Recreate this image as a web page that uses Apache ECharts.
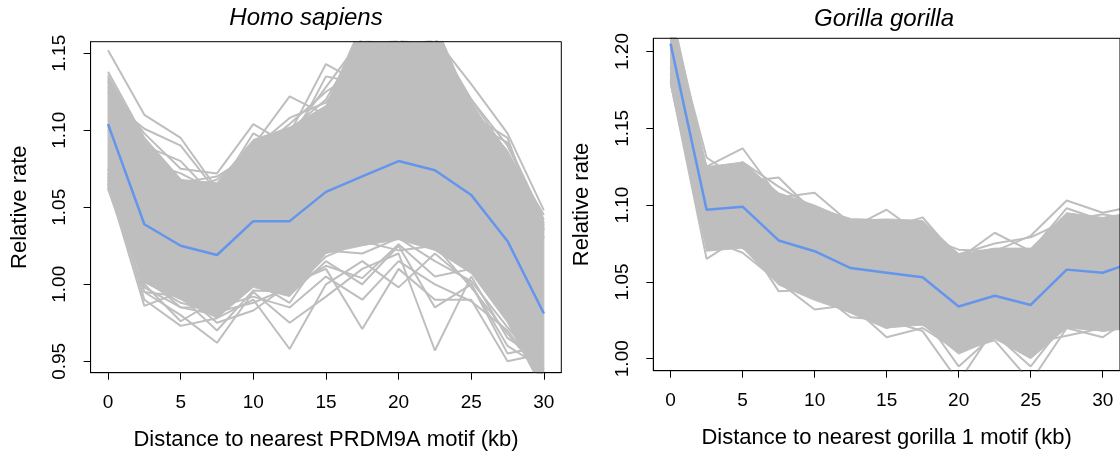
<!DOCTYPE html>
<html>
<head>
<meta charset="utf-8">
<script src="https://cdn.jsdelivr.net/npm/echarts@6/dist/echarts.min.js"></script>
<style>html,body{margin:0;padding:0;background:#fff}#c{width:1120px;height:458px}</style>
</head>
<body>
<div id="c"></div>
<script>
// ---------- data ----------
const humanX = [0, 2.5, 5, 7.5, 10, 12.5, 15, 17.5, 20, 22.5, 25, 27.5, 30];
const humanMean = [1.104, 1.039, 1.025, 1.019, 1.041, 1.041, 1.060, 1.070, 1.080, 1.074, 1.058, 1.028, 0.981];
const humanBandLow = [1.062, 1.001, 0.990, 0.978, 0.998, 0.992, 1.020, 1.025, 1.029, 1.022, 1.007, 0.975, 0.930];
const humanBandHigh = [1.136, 1.094, 1.068, 1.066, 1.094, 1.102, 1.116, 1.170, 1.170, 1.170, 1.115, 1.087, 1.040];
const humanLines = [
  [1.152, 1.110, 1.095, 1.062, 1.080, 1.098, 1.143, 1.130, 1.150, 1.160, 1.130, 1.098, 1.048],
  [1.120, 1.101, 1.090, 1.060, 1.075, 1.100, 1.120, 1.160, 1.160, 1.160, 1.120, 1.090, 1.040],
  [1.128, 1.098, 1.075, 1.072, 1.104, 1.090, 1.135, 1.130, 1.160, 1.140, 1.100, 1.080, 1.035],
  [1.110, 1.090, 1.080, 1.055, 1.090, 1.122, 1.110, 1.150, 1.140, 1.160, 1.120, 1.085, 1.045],
  [1.100, 1.085, 1.066, 1.070, 1.085, 1.104, 1.125, 1.140, 1.160, 1.150, 1.110, 1.095, 1.030],
  [1.132, 1.080, 1.072, 1.060, 1.098, 1.085, 1.110, 1.160, 1.150, 1.160, 1.118, 1.080, 1.038],
  [1.125, 1.092, 1.060, 1.068, 1.088, 1.108, 1.118, 1.150, 1.160, 1.140, 1.105, 1.092, 1.042],
  [1.138, 1.095, 1.068, 1.058, 1.080, 1.096, 1.128, 1.160, 1.160, 1.160, 1.116, 1.084, 1.036],
  [1.065, 0.986, 0.995, 0.975, 0.983, 1.000, 1.010, 0.971, 1.010, 0.990, 0.990, 0.950, 0.955],
  [1.070, 0.990, 0.973, 0.978, 0.990, 0.958, 1.000, 1.015, 0.998, 1.020, 1.000, 0.955, 0.960],
  [1.062, 0.995, 0.980, 0.962, 0.995, 0.975, 0.992, 1.010, 1.020, 0.957, 1.005, 0.965, 0.950],
  [1.075, 0.998, 0.985, 0.985, 0.992, 0.985, 1.005, 0.990, 1.015, 1.000, 0.989, 0.970, 0.940],
  [1.068, 1.000, 0.976, 0.990, 1.000, 0.993, 1.015, 1.000, 1.025, 0.985, 1.000, 0.960, 0.945],
  [1.063, 1.005, 0.985, 0.980, 1.002, 0.988, 1.022, 1.020, 1.030, 1.015, 1.002, 0.972, 0.945],
  [1.066, 0.995, 0.992, 0.970, 0.996, 0.995, 1.018, 1.028, 1.022, 1.025, 0.998, 0.968, 0.940],
  [1.072, 1.002, 0.988, 0.982, 0.988, 0.998, 1.012, 1.004, 1.026, 1.005, 1.010, 0.978, 0.935]
];

const gorillaX = [0, 2.5, 5, 7.5, 10, 12.5, 15, 17.5, 20, 22.5, 25, 27.5, 30, 32.5];
const gorillaMean = [1.205, 1.097, 1.099, 1.077, 1.070, 1.059, 1.056, 1.053, 1.034, 1.041, 1.035, 1.058, 1.056, 1.064];
const gorillaBandLow = [1.178, 1.070, 1.072, 1.048, 1.038, 1.030, 1.020, 1.022, 1.003, 1.013, 1.000, 1.020, 1.018, 1.020];
const gorillaBandHigh = [1.230, 1.125, 1.128, 1.108, 1.100, 1.090, 1.091, 1.090, 1.068, 1.072, 1.072, 1.095, 1.092, 1.096];
const gorillaLines = [
  [1.220, 1.131, 1.115, 1.118, 1.095, 1.085, 1.097, 1.080, 1.071, 1.070, 1.080, 1.103, 1.095, 1.100],
  [1.210, 1.125, 1.137, 1.105, 1.108, 1.088, 1.085, 1.092, 1.065, 1.082, 1.070, 1.098, 1.090, 1.095],
  [1.215, 1.120, 1.128, 1.112, 1.098, 1.091, 1.090, 1.088, 1.068, 1.075, 1.079, 1.090, 1.094, 1.090],
  [1.225, 1.110, 1.118, 1.100, 1.092, 1.082, 1.085, 1.083, 1.060, 1.064, 1.066, 1.088, 1.086, 1.090],
  [1.180, 1.065, 1.080, 1.044, 1.045, 1.027, 1.025, 1.018, 0.985, 1.020, 1.010, 1.015, 1.020, 1.020],
  [1.185, 1.078, 1.069, 1.050, 1.032, 1.035, 1.014, 1.020, 1.005, 1.012, 0.985, 1.020, 1.014, 1.030],
  [1.182, 1.082, 1.074, 1.055, 1.040, 1.030, 1.020, 1.028, 0.995, 1.016, 0.995, 1.025, 1.018, 1.022],
  [1.190, 1.085, 1.072, 1.058, 1.046, 1.038, 1.026, 1.022, 1.015, 1.021, 1.004, 1.026, 1.024, 1.028]
];

const xTicks = [0, 5, 10, 15, 20, 25, 30];
const humanYTicks = [0.95, 1.00, 1.05, 1.10, 1.15];
const gorillaYTicks = [1.00, 1.05, 1.10, 1.15, 1.20];
const titles = ['Homo sapiens', 'Gorilla gorilla'];
const xNames = ['Distance to nearest PRDM9A motif (kb)', 'Distance to nearest gorilla 1 motif (kb)'];
const yName = 'Relative rate';

// ---------- chart ----------
const FONT = '"Liberation Sans", Arial, Helvetica, sans-serif';
const GRAY = '#bebebe';
const BLUE = '#6495ed';
const chart = echarts.init(document.getElementById('c'), null, {renderer: 'canvas'});

const pair = (xs, ys) => xs.map((x, i) => [x, ys[i]]);

function xAxis(idx, name) {
  return {
    type: 'value', gridIndex: idx, min: -1.2, max: 31.2,
    splitLine: {show: false},
    axisLine: {show: true, onZero: false, lineStyle: {color: '#000', width: 1}},
    axisTick: {show: true, length: 7, customValues: xTicks, lineStyle: {color: '#000', width: 1}},
    axisLabel: {customValues: xTicks, color: '#000', fontSize: 19, fontFamily: FONT, margin: 21},
    name: name, nameLocation: 'middle', nameGap: 56,
    nameTextStyle: {color: '#000', fontSize: 22, fontFamily: FONT}
  };
}
function yAxis(idx, min, max, ticks) {
  return {
    type: 'value', gridIndex: idx, min: min, max: max,
    splitLine: {show: false},
    axisLine: {show: true, onZero: false, lineStyle: {color: '#000', width: 1}},
    axisTick: {show: true, length: 7, customValues: ticks, lineStyle: {color: '#000', width: 1}},
    axisLabel: {customValues: ticks, color: '#000', fontSize: 19, fontFamily: FONT, margin: 21,
      rotate: 90, formatter: v => v.toFixed(2)},
    name: yName, nameLocation: 'middle', nameGap: 60, nameRotate: 90,
    nameTextStyle: {color: '#000', fontSize: 22, fontFamily: FONT}
  };
}

function panelSeries(idx, xs, low, high, lines, mean) {
  const s = [];
  // dense band of bootstrap lines, drawn as a polygon through the axis scales
  s.push({
    type: 'custom', xAxisIndex: idx, yAxisIndex: idx, data: [[xs[0], low[0]]], clip: true, silent: true, z: 1,
    renderItem: function (params, api) {
      const pts = [];
      xs.forEach((x, i) => pts.push(api.coord([x, high[i]])));
      for (let i = xs.length - 1; i >= 0; i--) pts.push(api.coord([xs[i], low[i]]));
      return {type: 'polygon', shape: {points: pts}, style: {fill: GRAY, stroke: GRAY, lineWidth: 1}};
    }
  });
  lines.forEach(l => s.push({type: 'line', xAxisIndex: idx, yAxisIndex: idx, data: pair(xs, l), z: 2,
    symbol: 'none', lineStyle: {color: GRAY, width: 2}, silent: true, clip: true}));
  s.push({type: 'line', xAxisIndex: idx, yAxisIndex: idx, data: pair(xs, mean), z: 5,
    symbol: 'none', lineStyle: {color: BLUE, width: 2.5}, silent: true, clip: true});
  return s;
}

chart.setOption({
  animation: false,
  backgroundColor: '#fff',
  grid: [
    {left: 90.6, top: 41.7, width: 470.7, height: 331, show: true, borderColor: '#000', borderWidth: 1, backgroundColor: 'transparent', z: 10},
    {left: 653.3, top: 38.3, width: 470.4, height: 332.4, show: true, borderColor: '#000', borderWidth: 1, backgroundColor: 'transparent', z: 10}
  ],
  xAxis: [xAxis(0, xNames[0]), xAxis(1, xNames[1])],
  yAxis: [yAxis(0, 0.9426, 1.1575, humanYTicks), yAxis(1, 0.9922, 1.2086, gorillaYTicks)],
  graphic: [
    {type: 'text', x: 306, y: 18, style: {text: titles[0], fill: '#000', font: 'italic 24px ' + FONT, textAlign: 'center', textVerticalAlign: 'middle'}},
    {type: 'text', x: 884, y: 19, style: {text: titles[1], fill: '#000', font: 'italic 24px ' + FONT, textAlign: 'center', textVerticalAlign: 'middle'}}
  ],
  series: [].concat(
    panelSeries(0, humanX, humanBandLow, humanBandHigh, humanLines, humanMean),
    panelSeries(1, gorillaX, gorillaBandLow, gorillaBandHigh, gorillaLines, gorillaMean)
  )
});
</script>
</body>
</html>
